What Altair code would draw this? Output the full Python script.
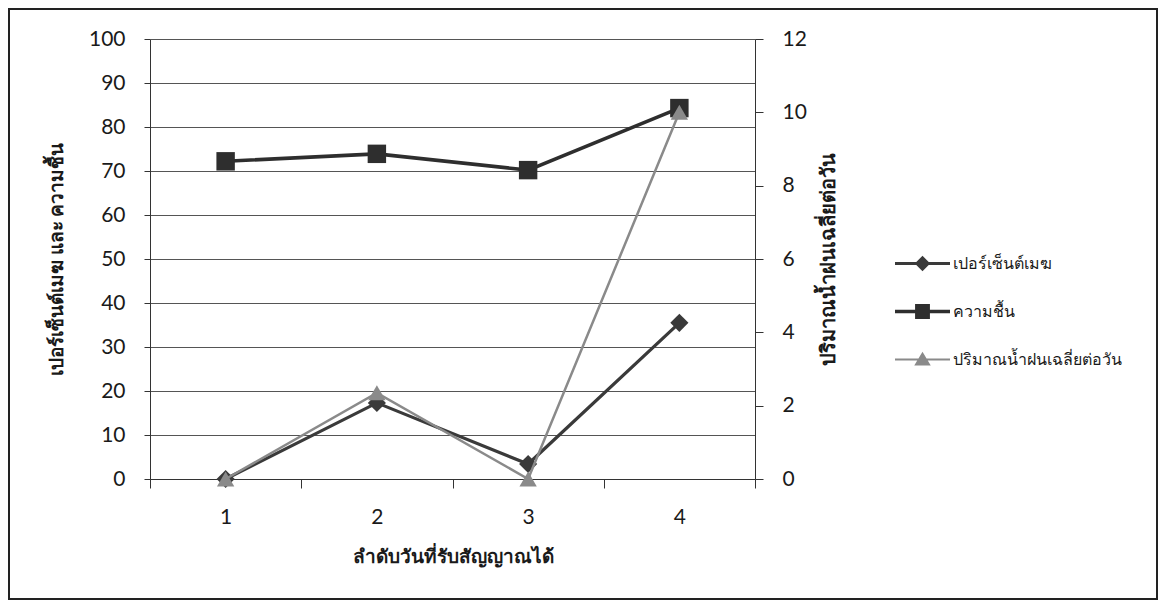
import altair as alt
import pandas as pd

# ---- data ----
days = [1, 2, 3, 4]
series_names = ["เปอร์เซ็นต์เมฆ", "ความชื้น", "ปริมาณน้ำฝนเฉลี่ยต่อวัน"]
cloud_pct = [0, 17.3, 3.4, 35.5]          # left axis
humidity = [72.2, 73.9, 70.2, 84.3]       # left axis
rain_avg = [0, 2.35, 0, 10.0]             # right axis

x_title = "ลำดับวันที่รับสัญญาณได้"
y_left_title = "เปอร์เซ็นต์เมฆ และ ความชื้น"
y_right_title = "ปริมาณน้ำฝนเฉลี่ยต่อวัน"

series_colors = ["#3a3a3a", "#2e2e2e", "#8a8a8a"]
legend_paths = [
    "M-1,-0.055H1V0.055H-1Z M0,-0.28L0.28,0L0,0.28L-0.28,0Z",
    "M-1,-0.06H1V0.06H-1Z M-0.27,-0.27H0.27V0.27H-0.27Z",
    "M-1,-0.04H1V0.04H-1Z M0,-0.28L0.3,0.22H-0.3Z",
]

W, H = 605, 440
PAD = {"left": 142, "top": 31, "right": 403, "bottom": 121}

df_left = pd.DataFrame({
    "day": days * 2,
    "series": [series_names[0]] * 4 + [series_names[1]] * 4,
    "value": cloud_pct + humidity,
})
df_rain = pd.DataFrame({"day": days, "rain": rain_avg, "series": series_names[2]})
df_all = pd.DataFrame({"day": days * 3, "series": sum([[s] * 4 for s in series_names], [])})

NUM_FONT = "Lato"
TXT_FONT = "Noto Sans"

x_enc = alt.X(
    "day:O",
    scale=alt.Scale(type="band", paddingInner=0, paddingOuter=0),
    bandPosition=0.5,
    axis=alt.Axis(
        title=x_title, labelAngle=0, tickBand="extent", tickSize=9,
        labelFont=NUM_FONT, labelFontSize=21, labelPadding=18, labelColor="#1a1a1a",
        titleFont=TXT_FONT, titleFontSize=19, titleFontWeight="bold", titlePadding=20,
        titleColor="#1a1a1a", domainColor="#333333", tickColor="#333333", grid=False,
    ),
)

y_left = alt.Y(
    "value:Q",
    scale=alt.Scale(domain=[0, 100], nice=False),
    axis=alt.Axis(
        title=y_left_title, values=list(range(0, 101, 10)), tickSize=6,
        labelFont=NUM_FONT, labelFontSize=21, labelPadding=19, labelColor="#1a1a1a",
        titleFont=TXT_FONT, titleFontSize=19, titleFontWeight="bold", titlePadding=22,
        titleColor="#1a1a1a", domainColor="#333333", tickColor="#333333",
        grid=True, gridColor="#555555", gridWidth=1,
    ),
)

base_left = alt.Chart(df_left)

cloud = base_left.transform_filter(alt.datum.series == series_names[0]).mark_line(
    color=series_colors[0], strokeWidth=3.2,
    point=alt.OverlayMarkDef(shape="diamond", size=330, filled=True, color=series_colors[0]),
).encode(x=x_enc, y=y_left)

hum = base_left.transform_filter(alt.datum.series == series_names[1]).mark_line(
    color=series_colors[1], strokeWidth=3.6,
    point=alt.OverlayMarkDef(shape="square", size=340, filled=True, color=series_colors[1]),
).encode(x=x_enc, y=y_left)

left = alt.layer(cloud, hum)

rain = alt.Chart(df_rain).mark_line(
    color=series_colors[2], strokeWidth=2.5,
    point=alt.OverlayMarkDef(shape="triangle-up", size=300, filled=True, color=series_colors[2]),
).encode(
    x=x_enc,
    y=alt.Y(
        "rain:Q",
        scale=alt.Scale(domain=[0, 12], nice=False),
        axis=alt.Axis(
            orient="right", title=y_right_title, values=list(range(0, 13, 2)), tickSize=8,
            labelFont=NUM_FONT, labelFontSize=21, labelPadding=19, labelColor="#1a1a1a",
            titleFont=TXT_FONT, titleFontSize=20, titleFontWeight="bold", titlePadding=32,
            titleColor="#1a1a1a", domainColor="#333333", tickColor="#333333", grid=False,
            titleAngle=-90,
        ),
    ),
)

legend_layer = alt.Chart(df_all).transform_filter("datum.day > 100").mark_point(
    filled=True, opacity=1
).encode(
    shape=alt.Shape("series:N", scale=alt.Scale(domain=series_names, range=legend_paths),
                    legend=alt.Legend(title=None)),
    color=alt.Color("series:N", scale=alt.Scale(domain=series_names, range=series_colors),
                    legend=alt.Legend(title=None)),
)

frame = alt.Chart(pd.DataFrame({"a": [0]})).mark_rect(
    fill=None, stroke="#222222", strokeWidth=2
).encode(
    x=alt.value(-PAD["left"] + 1), x2=alt.value(W + PAD["right"] - 1),
    y=alt.value(-PAD["top"] + 1), y2=alt.value(H + PAD["bottom"] - 1),
)

chart = alt.layer(frame, left, rain, legend_layer).resolve_scale(
    y="independent"
).properties(
    width=W, height=H,
    autosize=alt.AutoSizeParams(type="none"),
    padding=PAD,
    background="white",
).configure_view(stroke=None).configure_legend(
    orient="none", legendX=745, legendY=197, symbolSize=3025, symbolStrokeWidth=0,
    labelFont=TXT_FONT, labelFontSize=16, labelColor="#1a1a1a", rowPadding=12, labelOffset=3,
    labelLimit=400,
)

chart.save("out.html", embed_options={"renderer": "svg", "actions": False})
